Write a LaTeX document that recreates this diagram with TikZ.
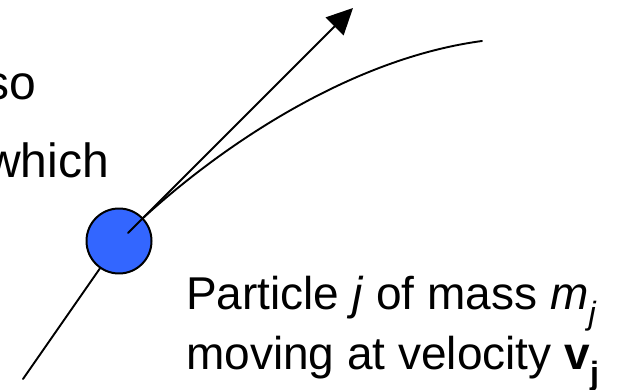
\documentclass[tikz,border=0pt]{standalone}
\usepackage{fontspec}
\setmainfont{Liberation Sans}
\usetikzlibrary{arrows.meta}
\definecolor{ballblue}{RGB}{51,102,255}

\begin{document}
\begin{tikzpicture}[
    x=1pt, y=-1pt,
    line cap=round,
    line join=round,
    traj/.style={draw=black, line width=1.9pt},
    vel/.style={draw=black, line width=1.9pt, -{Triangle[length=26pt, width=25pt]}},
    ball/.style={circle, draw=black, fill=ballblue, line width=2pt, minimum size=65pt, inner sep=0pt},
    lab/.style={font=\fontsize{46}{55}\selectfont, anchor=base west, inner sep=0pt},
    side/.style={font=\fontsize{48}{58}\selectfont, anchor=base east, inner sep=0pt}
]
\useasboundingbox (0,0) rectangle (627,390);
\clip (0,0) rectangle (627,390);

% text cut off at the left
\node[side] (also)  at (36,100)  {so};
\node[side] (which) at (109,178) {which};

% trajectory
\coordinate (T0) at (23,379);
\coordinate (T1) at (482,41);
\coordinate (TC) at (119,241);
\draw[traj] (T0) -- (TC) .. controls (200,160) and (340,60) .. (T1);

% particle j
\node[ball] (ball) at (TC) {};

% velocity
\coordinate (vstart) at (128,233);
\coordinate (vtip) at (353,8);
\draw[vel] (vstart) -- (vtip);

% label
\node[lab] (lab1) at (186,310) {Particle \textit{j} of mass \textit{m}\textsubscript{\textit{j}}};
\node[lab] (lab2) at (186,370) {moving at velocity \textbf{v}\textsubscript{\textbf{j}}};

\end{tikzpicture}
\end{document}
